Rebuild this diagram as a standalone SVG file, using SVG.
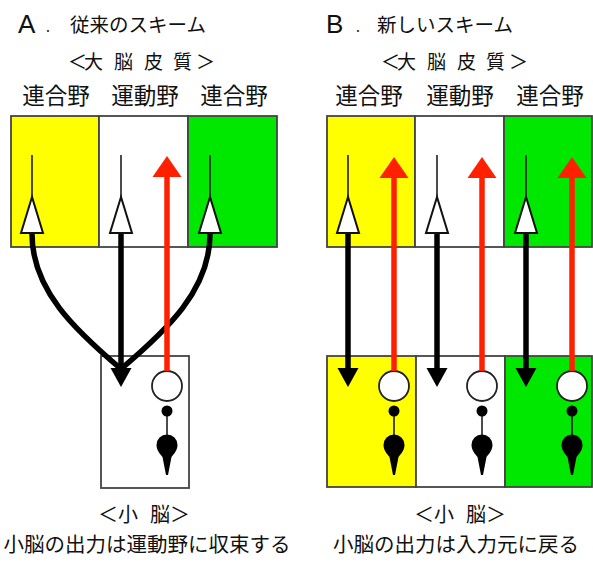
<svg xmlns="http://www.w3.org/2000/svg" width="593" height="562" viewBox="0 0 593 562">
  <style>
    .jp { font-family: "Noto Sans CJK JP", "Noto Sans CJK SC", sans-serif; fill: #111; }
    .lat { font-family: "Liberation Sans", Arial, sans-serif; fill: #111; }
    .box { stroke: #444; stroke-width: 1.8; }
    .yel { fill: #ffff00; }
    .wht { fill: #ffffff; }
    .grn { fill: #00e800; }
    .thin { stroke: #111; stroke-width: 1.5; fill: none; }
    .tri { fill: #fff; stroke: #111; stroke-width: 2; }
    .blk { stroke: #000; stroke-width: 5.5; fill: none; }
    .red { stroke: #ff2000; stroke-width: 5.5; fill: none; }
    .redhead { fill: #ff2000; }
    .blkhead { fill: #000; }
    .soma { fill: #fff; stroke: #222; stroke-width: 1.8; }
    .dot { fill: #000; }
  </style>
  <defs>
    <!-- cortical pyramidal neuron: dendrite + triangular soma, apex at (0,0) -->
    <g id="pyr">
      <line class="thin" x1="0" y1="-42" x2="0" y2="0"/>
      <polygon class="tri" points="0,0 -11,36 11,36"/>
    </g>
    <!-- cerebellar circuit: input cell, granule dot, output cell with axon spike -->
    <g id="cbl">
      <line class="thin" x1="0" y1="0" x2="0" y2="30"/>
      <circle class="soma" cx="0" cy="-25" r="15"/>
      <circle class="dot" cx="0" cy="0" r="5.5"/>
      <path class="dot" d="M-10.5,34 A10.5,10.5 0 0 1 10.5,34 C10.5,39 7,43 4.5,46 L1,64 L-1,64 L-4.5,46 C-7,43 -10.5,39 -10.5,34 Z"/>
    </g>
    <polygon id="uphead" points="0,0 -14.5,21 14.5,21"/>
    <polygon id="downhead" points="0,0 -10.5,-19 10.5,-19"/>
  </defs>

  <!-- ===== Panel A ===== -->
  <g id="titleA">
    <text class="lat" x="18" y="33" font-size="26">A</text>
    <text class="jp" x="46" y="32" font-size="14">.</text>
    <text class="jp" x="70" y="32" font-size="19.5">従来のスキーム</text>
  </g>
  <text class="jp" x="68 84 114 144 173 196" y="69" font-size="19">＜大脳皮質＞</text>
  <text class="jp" x="56" y="104" font-size="22.5" text-anchor="middle">連合野</text>
  <text class="jp" x="145" y="104" font-size="22.5" text-anchor="middle">運動野</text>
  <text class="jp" x="234" y="104" font-size="22.5" text-anchor="middle">連合野</text>

  <g id="A-cortex-assoc1"><rect class="box yel" x="11" y="116" width="88" height="131"/><use href="#pyr" x="32" y="197"/></g>
  <g id="A-cortex-motor"><rect class="box wht" x="99" y="116" width="89" height="131"/><use href="#pyr" x="121" y="197"/></g>
  <g id="A-cortex-assoc2"><rect class="box grn" x="188" y="116" width="89" height="131"/><use href="#pyr" x="210" y="197"/></g>

  <g id="A-cerebellum">
    <rect class="box wht" x="101" y="356" width="88" height="132"/>
    <use href="#cbl" x="167" y="411"/>
  </g>

  <g id="A-connectors">
    <path class="blk" d="M32,234 C32,290 75,330 121,369"/>
    <path class="blk" d="M210,234 C210,290 167,330 121,369"/>
    <line class="blk" x1="121" y1="234" x2="121" y2="372"/>
    <use href="#downhead" class="blkhead" x="121" y="387"/>
    <line class="red" x1="167" y1="371" x2="167" y2="174"/>
    <use href="#uphead" class="redhead" x="167" y="156"/>
  </g>

  <text class="jp" x="98 118 150 170" y="522" font-size="20">＜小脳＞</text>
  <text class="jp" x="147" y="552" font-size="20.5" text-anchor="middle">小脳の出力は運動野に収束する</text>

  <!-- ===== Panel B ===== -->
  <g id="titleB">
    <text class="lat" x="326" y="33" font-size="26">B</text>
    <text class="jp" x="356" y="32" font-size="14">.</text>
    <text class="jp" x="377" y="32" font-size="19.5">新しいスキーム</text>
  </g>
  <text class="jp" x="381 397 427 457 486 509" y="69" font-size="19">＜大脳皮質＞</text>
  <text class="jp" x="369" y="104" font-size="22.5" text-anchor="middle">連合野</text>
  <text class="jp" x="460" y="104" font-size="22.5" text-anchor="middle">運動野</text>
  <text class="jp" x="550" y="104" font-size="22.5" text-anchor="middle">連合野</text>

  <g id="B-cortex-assoc1"><rect class="box yel" x="327" y="116" width="88" height="131"/><use href="#pyr" x="348" y="197"/></g>
  <g id="B-cortex-motor"><rect class="box wht" x="415" y="116" width="89" height="131"/><use href="#pyr" x="437" y="197"/></g>
  <g id="B-cortex-assoc2"><rect class="box grn" x="504" y="116" width="88" height="131"/><use href="#pyr" x="526" y="197"/></g>

  <g id="B-cerebellum-1"><rect class="box yel" x="327" y="356" width="89" height="131"/><use href="#cbl" x="394" y="411"/></g>
  <g id="B-cerebellum-2"><rect class="box wht" x="416" y="356" width="89" height="131"/><use href="#cbl" x="482" y="411"/></g>
  <g id="B-cerebellum-3"><rect class="box grn" x="505" y="356" width="87" height="131"/><use href="#cbl" x="572" y="411"/></g>

  <g id="B-connectors">
    <line class="blk" x1="348" y1="234" x2="348" y2="372"/>
    <use href="#downhead" class="blkhead" x="348" y="387"/>
    <line class="blk" x1="437" y1="234" x2="437" y2="372"/>
    <use href="#downhead" class="blkhead" x="437" y="387"/>
    <line class="blk" x1="526" y1="234" x2="526" y2="372"/>
    <use href="#downhead" class="blkhead" x="526" y="387"/>
    <line class="red" x1="394" y1="371" x2="394" y2="175"/>
    <use href="#uphead" class="redhead" x="394" y="157"/>
    <line class="red" x1="482" y1="371" x2="482" y2="175"/>
    <use href="#uphead" class="redhead" x="482" y="157"/>
    <line class="red" x1="572" y1="371" x2="572" y2="175"/>
    <use href="#uphead" class="redhead" x="572" y="157"/>
  </g>

  <text class="jp" x="414 434 466 486" y="522" font-size="20">＜小脳＞</text>
  <text class="jp" x="456" y="552" font-size="20.5" text-anchor="middle">小脳の出力は入力元に戻る</text>
</svg>
